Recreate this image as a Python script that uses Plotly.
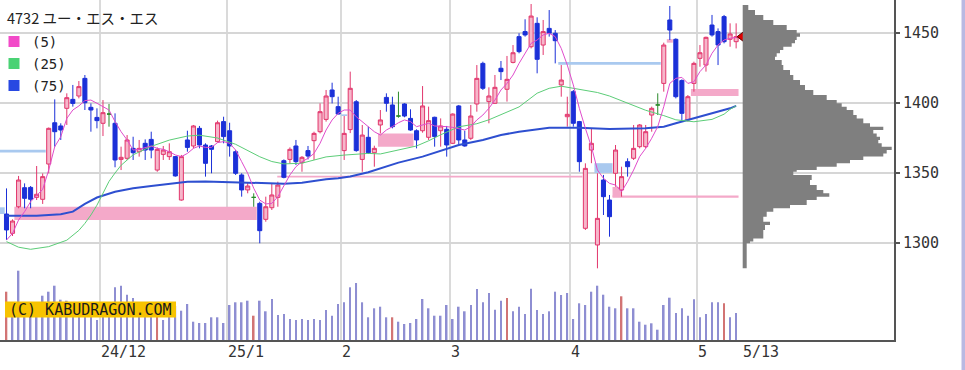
import plotly.graph_objects as go

# ---------------- data ----------------
open_ = [1320.7, 1306.9, 1325.9, 1339.5, 1339.7, 1332.6, 1331.2, 1356.4, 1385.9, 1383.6,
         1396.2, 1402.6, 1405.0, 1417.6, 1396.9, 1389.7, 1385.5, 1392.1, 1385.5, 1359.7,
         1360.5, 1367.6, 1365.2, 1371.2, 1374.0, 1352.1, 1363.3, 1361.7, 1361.7, 1330.7,
         1373.6, 1369.3, 1381.9, 1370.0, 1369.3, 1372.4, 1386.7, 1380.2, 1365.2, 1348.6,
         1337.9, 1332.6, 1328.3, 1316.9, 1325.2, 1332.6, 1358.8, 1359.7, 1369.3, 1357.4,
         1366.0, 1373.1, 1379.5, 1388.3, 1409.3, 1397.4, 1366.0, 1381.0, 1400.9, 1359.7,
         1375.5, 1364.5, 1384.3, 1404.0, 1398.6, 1390.7, 1399.3, 1389.0, 1380.2, 1380.2,
         1375.5, 1389.8, 1380.2, 1381.2, 1371.2, 1397.9, 1373.6, 1374.8, 1399.3, 1428.3,
         1401.0, 1399.8, 1424.8, 1409.8, 1429.0, 1447.4, 1451.0, 1440.2, 1456.9, 1441.4,
         1453.3, 1449.8, 1412.9, 1390.2, 1408.1, 1386.7, 1310.5, 1366.4, 1298.6, 1345.0,
         1330.7, 1349.8, 1337.9, 1358.1, 1360.5, 1368.8, 1368.8, 1391.4, 1398.6, 1414.0,
         1459.3, 1445.5, 1416.0, 1387.9, 1414.0, 1431.9, 1427.1, 1455.7, 1451.0, 1461.7,
         1445.5, 1443.8]
high = [1339.0, 1316.9, 1347.9, 1342.6, 1340.7, 1355.0, 1349.7, 1382.5, 1402.6, 1385.5,
        1406.9, 1412.9, 1415.7, 1420.0, 1399.7, 1396.2, 1402.1, 1399.3, 1392.6, 1368.8,
        1377.1, 1375.9, 1373.6, 1374.0, 1379.5, 1368.3, 1369.3, 1371.2, 1362.1, 1362.9,
        1380.2, 1384.3, 1383.6, 1371.2, 1370.0, 1387.4, 1390.2, 1385.9, 1366.4, 1349.8,
        1343.1, 1335.5, 1329.5, 1333.1, 1342.6, 1343.8, 1359.7, 1368.3, 1373.6, 1362.1,
        1369.3, 1379.5, 1399.7, 1409.3, 1414.5, 1404.5, 1390.7, 1422.4, 1402.1, 1384.3,
        1383.1, 1369.5, 1395.0, 1406.9, 1404.5, 1408.1, 1399.8, 1395.5, 1381.2, 1412.1,
        1397.4, 1390.2, 1389.0, 1383.6, 1392.6, 1398.6, 1380.2, 1398.6, 1427.1, 1429.5,
        1411.2, 1420.0, 1430.0, 1433.6, 1441.4, 1449.8, 1459.8, 1470.7, 1461.2, 1459.3,
        1466.4, 1452.1, 1427.1, 1404.5, 1409.3, 1387.2, 1356.9, 1381.9, 1349.8, 1348.6,
        1334.3, 1370.0, 1354.5, 1360.5, 1384.3, 1385.0, 1384.3, 1397.4, 1406.9, 1443.1,
        1469.3, 1446.2, 1416.9, 1405.7, 1429.5, 1441.4, 1447.4, 1462.9, 1453.3, 1462.9,
        1456.9, 1456.9]
low = [1302.1, 1305.0, 1324.8, 1324.8, 1324.8, 1330.7, 1327.9, 1349.8, 1368.8, 1373.6,
       1384.3, 1397.4, 1403.3, 1395.0, 1379.5, 1381.9, 1376.4, 1383.1, 1354.1, 1352.1,
       1359.3, 1359.3, 1361.7, 1359.3, 1360.5, 1350.9, 1359.3, 1359.3, 1347.4, 1330.2,
       1365.2, 1367.6, 1367.6, 1347.4, 1349.8, 1371.7, 1371.2, 1361.7, 1348.6, 1333.1,
       1335.5, 1325.9, 1299.8, 1315.2, 1323.6, 1325.9, 1346.2, 1356.9, 1355.7, 1350.9,
       1359.7, 1359.3, 1378.3, 1386.7, 1399.7, 1391.9, 1359.3, 1378.5, 1365.2, 1350.9,
       1363.6, 1354.5, 1378.3, 1393.8, 1381.9, 1389.5, 1389.8, 1380.2, 1367.6, 1378.8,
       1373.6, 1368.8, 1368.8, 1361.7, 1370.7, 1370.7, 1368.8, 1373.6, 1393.8, 1409.3,
       1385.5, 1399.3, 1416.4, 1401.0, 1428.3, 1435.5, 1447.4, 1439.0, 1421.2, 1434.3,
       1447.4, 1428.3, 1404.5, 1383.1, 1383.1, 1350.9, 1309.3, 1357.0, 1281.9, 1320.0,
       1304.5, 1340.2, 1333.1, 1347.4, 1359.3, 1367.6, 1367.6, 1379.5, 1391.4, 1408.1,
       1445.0, 1403.3, 1387.4, 1386.7, 1408.1, 1425.9, 1422.4, 1447.4, 1427.1, 1442.6,
       1440.2, 1439.0]
close = [1309.3, 1315.7, 1345.0, 1331.9, 1331.2, 1334.8, 1347.4, 1381.9, 1379.5, 1380.7,
         1403.8, 1399.7, 1411.7, 1400.2, 1395.0, 1387.4, 1393.1, 1392.1, 1359.3, 1361.2,
         1373.6, 1364.5, 1367.6, 1366.4, 1366.4, 1366.9, 1366.4, 1365.2, 1347.9, 1361.7,
         1368.3, 1383.6, 1370.0, 1356.9, 1366.9, 1385.9, 1376.0, 1369.3, 1349.8, 1337.9,
         1340.7, 1332.6, 1308.8, 1325.9, 1334.3, 1341.4, 1346.9, 1366.9, 1358.1, 1361.2,
         1362.1, 1378.3, 1393.8, 1405.0, 1404.5, 1392.1, 1378.3, 1410.5, 1366.0, 1377.1,
         1364.5, 1367.6, 1387.9, 1399.8, 1383.1, 1390.7, 1390.7, 1380.7, 1373.6, 1397.9,
         1387.4, 1376.0, 1383.6, 1370.0, 1392.1, 1373.6, 1369.3, 1390.7, 1417.6, 1410.5,
         1405.0, 1411.2, 1422.4, 1416.9, 1435.9, 1436.7, 1448.6, 1462.1, 1431.2, 1451.0,
         1449.8, 1444.5, 1416.4, 1391.9, 1385.5, 1358.1, 1353.3, 1371.2, 1317.6, 1333.1,
         1318.8, 1366.4, 1347.4, 1354.5, 1367.6, 1384.3, 1379.5, 1396.2, 1398.6, 1441.4,
         1452.1, 1404.5, 1392.6, 1404.5, 1428.3, 1435.9, 1446.9, 1448.6, 1441.4, 1443.8,
         1449.3, 1447.4]
doji_days = [17, 41, 65, 108]

ma5 = [1302.1, 1306.9, 1316.4, 1322.4, 1329.5, 1334.3, 1338.3, 1352.1, 1368.8, 1375.9,
       1389.0, 1395.0, 1397.9, 1401.7, 1402.1, 1399.8, 1397.4, 1395.0, 1386.7, 1379.5,
       1373.6, 1366.4, 1366.9, 1368.3, 1369.3, 1367.6, 1366.9, 1365.2, 1362.9, 1361.7,
       1364.0, 1367.6, 1369.3, 1368.3, 1368.3, 1371.7, 1372.4, 1371.2, 1366.4, 1358.1,
       1349.8, 1339.1, 1330.7, 1327.9, 1328.3, 1333.1, 1341.4, 1348.6, 1354.5, 1358.1,
       1360.5, 1364.0, 1371.2, 1380.7, 1387.9, 1392.6, 1395.0, 1395.0, 1390.2, 1386.7,
       1383.1, 1379.5, 1377.1, 1380.7, 1383.1, 1385.9, 1387.9, 1386.7, 1383.1, 1384.3,
       1385.5, 1383.6, 1383.6, 1383.1, 1382.6, 1381.9, 1380.7, 1383.1, 1387.9, 1391.4,
       1396.2, 1402.1, 1409.3, 1414.0, 1420.0, 1428.3, 1435.5, 1442.6, 1445.0, 1448.6,
       1449.8, 1447.4, 1439.0, 1427.1, 1412.9, 1396.2, 1381.9, 1368.8, 1352.1, 1346.2,
       1342.6, 1341.4, 1336.7, 1343.8, 1352.1, 1361.7, 1367.6, 1374.8, 1383.1, 1397.4,
       1414.0, 1417.6, 1418.3, 1414.0, 1415.2, 1422.4, 1427.1, 1435.5, 1441.4, 1445.0,
       1446.2, 1446.9]
ma25_days = [0, 2, 4, 7, 10, 12, 13, 14, 15, 16, 17, 18, 19, 21, 24, 27, 30, 32, 35, 38,
             40, 42, 44, 46, 49, 51, 53, 56, 60, 62, 65, 68, 70, 72, 75, 78, 80, 82, 85, 88,
             90, 92, 95, 98, 100, 103, 106, 109, 111, 114, 117, 119, 120, 121]
ma25 = [1301, 1297, 1295.5, 1297.4, 1302, 1309, 1314, 1320, 1327, 1335, 1344, 1350, 1355.5,
        1363, 1369, 1373.5, 1376.4, 1377, 1375, 1370.5, 1366, 1361.6, 1358.2, 1356.5, 1357,
        1359.5, 1361.5, 1362.8, 1364, 1363.6, 1366.2, 1369.3, 1373, 1377.3, 1383, 1385.2,
        1388, 1391.5, 1397.2, 1407, 1410.5, 1412, 1410, 1407.5, 1405, 1399.8, 1394.8, 1391,
        1388, 1386.6, 1388.3, 1392, 1395.5, 1398]
ma75_days = [0, 5, 9, 11, 13, 15, 18, 21, 24, 27, 30, 33, 38, 42, 46, 49, 51, 53, 55, 57,
             60, 62, 65, 69, 72, 75, 79, 82, 85, 88, 90, 95, 100, 106, 109, 111, 114, 117, 120, 121]
ma75 = [1319.5, 1319.5, 1320.5, 1322.4, 1328, 1332.5, 1336.6, 1339.1, 1340.7, 1342.1,
        1343.8, 1344, 1343.4, 1342.8, 1342.3, 1343, 1344.5, 1345.5, 1346.2, 1347.5,
        1350.5, 1353.3, 1357.4, 1361.7, 1365.9, 1370, 1373.6, 1377.1, 1379.5, 1381.5,
        1382.4, 1382.4, 1381.4, 1381.9, 1383.1, 1385.5, 1389, 1392.6, 1396.2, 1397.9]

volume = [48.3, 30, 69.3, 31, 29, 33, 44.3, 48.3, 54.3, 40.3,
          39.3, 34, 32, 35, 24, 20, 31, 36, 52.7, 54.3,
          45.3, 42, 36, 33, 28, 30, 20, 30, 34, 29.3,
          36, 18.3, 17, 17, 22.7, 22.7, 17, 35, 37.7, 37.7,
          39.3, 24.3, 39.3, 28.7, 41, 25, 26, 21, 20, 21,
          20, 21, 20, 30, 24.3, 36, 37.7, 52.7, 57, 37.7,
          22.7, 31.7, 33.3, 22.7, 22.7, 18.3, 16, 17, 21, 41,
          31.7, 24.3, 24.3, 35, 21, 33.3, 28.7, 35, 51, 37.7,
          47, 30.3, 39.3, 42, 28.7, 33.3, 26, 51.3, 30, 26,
          28.7, 48.3, 45, 47, 21, 36.7, 35, 48.3, 54.3, 45.3,
          33.3, 31.7, 43.7, 31.7, 31.7, 18.3, 15.3, 16.7, 10.3, 35,
          42.3, 27, 31.7, 24.3, 40.7, 22.7, 26, 37.7, 37.7, 36.7,
          22.7, 27]
red_volume_days = [0, 25, 41, 64, 83, 102, 119]

profile_price = [1470.0, 1466.4, 1462.9, 1459.3, 1455.7, 1452.1, 1449.8, 1447.4, 1445.0, 1442.6,
                 1440.2, 1437.9, 1435.5, 1433.1, 1430.7, 1427.2, 1423.6, 1420.0, 1416.4, 1412.9,
                 1409.3, 1405.7, 1402.1, 1399.8, 1397.4, 1395.0, 1391.4, 1389.0, 1385.5, 1383.1,
                 1380.7, 1378.3, 1375.9, 1373.6, 1371.2, 1368.8, 1366.4, 1364.0, 1361.7, 1359.3,
                 1356.9, 1354.5, 1352.1, 1350.9, 1348.6, 1345.0, 1341.4, 1337.9, 1335.5, 1333.1,
                 1330.7, 1327.1, 1324.8, 1322.4, 1318.8, 1315.2, 1312.9, 1309.3, 1304.5, 1303.3,
                 1301.0, 1299.8, 1282.0]
profile_volume = [5.6, 12.3, 20.6, 30.6, 44, 54, 57.3, 54, 52.3, 49,
                  40.6, 37.3, 34, 32.3, 39, 40.6, 47.3, 50.6, 57.3, 62.3,
                  70.6, 84, 94, 99, 104, 110.6, 114, 120.6, 127.3, 140.6,
                  130.6, 134, 137.3, 135.6, 139, 149, 144, 140.6, 120.6, 107.3,
                  94, 74, 54, 50.6, 69, 67.3, 74, 80.6, 86.6, 74,
                  64, 47.3, 30.6, 24, 20.6, 27.3, 22.3, 20.6, 20.6, 10.6,
                  7.3, 4, 4]

# price zones (windows): from day, to day, low price, high price
pink_zones = [(1.3, 41.5, 1316.4, 1325.9), (44.9, 95.5, 1346.7, 1348.1),
              (61.6, 67.5, 1368.8, 1378.3), (100.5, 102.0, 1333.0, 1340.0),
              (100.5, 121.4, 1332.3, 1334.0), (113.5, 121.4, 1405.0, 1410.0),
              (109.5, 110.5, 1443.1, 1445.6)]
blue_zones = [(-1.2, 6.5, 1364.6, 1366.6), (-1.2, -0.3, 1320.7, 1325.5),
              (91.5, 108.5, 1427.4, 1429.3), (97.5, 100.5, 1350.0, 1357.0),
              (55.5, 56.5, 1390.7, 1391.9)]

month_breaks = [15.5, 36.5, 55.5, 73.5, 93.5, 114.5]
month_labels = ["24/12", "25/1", "2", "3", "4", "5"]
last_date_label = "5/13"
title_text = "4732 ユー・エス・エス"
ma_labels = ["(5)", "(25)", "(75)"]
price_ticks = [1300, 1350, 1400, 1450]

# ---------------- geometry / style ----------------
FIG_W, FIG_H = 965, 370
PLOT_W, PLOT_H = 894, 340
STEP_PX, FIRST_PX = 6.03, 6.5
PX_PER_YEN, REF_PRICE, REF_PX = 1.4, 1450, 33
PROFILE_BASE_PX = 742.7

x_range = [-FIRST_PX / STEP_PX, (PLOT_W - FIRST_PX) / STEP_PX]
y_range = [REF_PRICE - (PLOT_H - REF_PX) / PX_PER_YEN, REF_PRICE + REF_PX / PX_PER_YEN]


def px_x(px):
    return px / PLOT_W


def px_y(py):
    return 1 - py / PLOT_H


UP_LINE, UP_FILL, DOWN, DOJI = "#e2366c", "#f6b6ca", "#1b30d8", "#2a8a2a"
MA_COLORS = ["#e04ccc", "#5ccd78", "#2e4fd0"]
SQ_COLORS = ["#f24ac8", "#4ad274", "#2848e2"]
PINK_ZONE, BLUE_ZONE = "#f4a9c9", "#a9c9ef"
MONO = "DejaVu Sans Mono"

n = len(close)
days = list(range(n))
is_doji = [d in doji_days for d in days]


def keep(arr, flags):
    return [v if f else None for v, f in zip(arr, flags)]


not_doji = [not f for f in is_doji]

fig = go.Figure()

# volume bars
fig.add_trace(go.Bar(
    x=days, y=volume, yaxis="y2", width=0.27,
    marker=dict(color=["#d27474" if d in red_volume_days else "#8e8ed2" for d in days],
                line=dict(width=0)),
    hoverinfo="skip", showlegend=False))

# candles
fig.add_trace(go.Candlestick(
    x=days, open=keep(open_, not_doji), high=keep(high, not_doji),
    low=keep(low, not_doji), close=keep(close, not_doji),
    increasing=dict(line=dict(color=UP_LINE, width=1), fillcolor=UP_FILL),
    decreasing=dict(line=dict(color=DOWN, width=1), fillcolor=DOWN),
    whiskerwidth=0, showlegend=False))
fig.add_trace(go.Candlestick(
    x=days, open=keep(open_, is_doji), high=keep(high, is_doji),
    low=keep(low, is_doji), close=keep(close, is_doji),
    increasing=dict(line=dict(color=DOJI, width=1), fillcolor=DOJI),
    decreasing=dict(line=dict(color=DOJI, width=1), fillcolor=DOJI),
    whiskerwidth=0, showlegend=False))

# moving averages
fig.add_trace(go.Scatter(x=ma75_days, y=ma75, mode="lines",
                         line=dict(color=MA_COLORS[2], width=2), showlegend=False))
fig.add_trace(go.Scatter(x=ma25_days, y=ma25, mode="lines",
                         line=dict(color=MA_COLORS[1], width=1), showlegend=False))
fig.add_trace(go.Scatter(x=days, y=ma5, mode="lines",
                         line=dict(color=MA_COLORS[0], width=1), showlegend=False))

# last price marker
fig.add_trace(go.Scatter(x=[n], y=[close[-1]], mode="markers",
                         marker=dict(symbol="triangle-left", size=10, color="#e00000",
                                     line=dict(color="#5a0000", width=1)),
                         showlegend=False))

# price-by-volume profile
fig.add_trace(go.Scatter(x=profile_volume, y=profile_price, xaxis="x2", yaxis="y",
                         mode="lines", line=dict(width=0, shape="vh", color="#7f7f7f"),
                         fill="tozerox", fillcolor="#7f7f7f", showlegend=False,
                         hoverinfo="skip"))

shapes = []
for (d0, d1, p0, p1) in pink_zones:
    shapes.append(dict(type="rect", xref="x", yref="y", x0=d0, x1=d1, y0=p0, y1=p1,
                       fillcolor=PINK_ZONE, line=dict(width=0), layer="between"))
for (d0, d1, p0, p1) in blue_zones:
    shapes.append(dict(type="rect", xref="x", yref="y", x0=d0, x1=d1, y0=p0, y1=p1,
                       fillcolor=BLUE_ZONE, line=dict(width=0), layer="between"))
# white legend backdrop
shapes.append(dict(type="rect", xref="paper", yref="paper", x0=px_x(0), x1=px_x(63),
                   y0=px_y(96), y1=px_y(28), fillcolor="white", line=dict(width=0),
                   layer="between"))
# legend squares
for k, col in enumerate(SQ_COLORS):
    top = 36 + k * 22
    shapes.append(dict(type="rect", xref="paper", yref="paper", x0=px_x(8.5), x1=px_x(19.5),
                       y0=px_y(top + 11), y1=px_y(top), fillcolor=col, line=dict(width=0),
                       layer="above"))
# watermark box
shapes.append(dict(type="rect", xref="paper", yref="paper", x0=px_x(5), x1=px_x(176),
                   y0=px_y(317.5), y1=px_y(301.5), fillcolor="#f7c300", line=dict(width=0),
                   layer="above"))
# right lavender strip
shapes.append(dict(type="rect", xref="paper", yref="paper", x0=px_x(961.5), x1=px_x(966),
                   y0=px_y(FIG_H + 2), y1=1.0, fillcolor="#b9b9e2", line=dict(width=0),
                   layer="above"))

annotations = [
    dict(text=title_text, xref="paper", yref="paper", x=px_x(5), y=px_y(17),
         xanchor="left", yanchor="middle", showarrow=False,
         font=dict(family="Noto Sans CJK JP", size=14.5, color="#222")),
    dict(text="(C) KABUDRAGON.COM", xref="paper", yref="paper", x=px_x(6.5), y=px_y(309.5),
         xanchor="left", yanchor="middle", showarrow=False,
         font=dict(family=MONO, size=15, color="#1a1a1a")),
]
for k, lab in enumerate(ma_labels):
    annotations.append(dict(text=lab, xref="paper", yref="paper", x=px_x(29.5),
                            y=px_y(41.5 + k * 22), xanchor="left", yanchor="middle",
                            showarrow=False, font=dict(family=MONO, size=14, color="#222")))
for pos, lab in zip(month_breaks + [n], month_labels + [last_date_label]):
    annotations.append(dict(text=lab, xref="x", yref="paper", x=pos, y=0,
                            xanchor="left", yanchor="top", yshift=-1, xshift=-1,
                            showarrow=False, font=dict(family=MONO, size=15, color="#333")))

fig.update_layout(
    width=FIG_W, height=FIG_H,
    margin=dict(l=0, r=FIG_W - PLOT_W, t=0, b=FIG_H - PLOT_H, pad=0),
    paper_bgcolor="white", plot_bgcolor="white",
    boxgap=0.33, boxgroupgap=0,
    showlegend=False,
    shapes=shapes, annotations=annotations,
    xaxis=dict(range=x_range, tickvals=month_breaks, showticklabels=False, ticks="",
               showgrid=True, gridcolor="#dadada", gridwidth=1.5, zeroline=False,
               showline=True, linecolor="#555", linewidth=2,
               rangeslider=dict(visible=False), fixedrange=True),
    yaxis=dict(range=y_range, side="right", tickvals=price_ticks, ticks="outside",
               ticklen=4, tickcolor="#555", tickwidth=1.5,
               tickfont=dict(family=MONO, size=15, color="#333"),
               showgrid=True, gridcolor="#d6d6d6", gridwidth=1.5, zeroline=False,
               showline=True, linecolor="#555", linewidth=2, fixedrange=True),
    yaxis2=dict(overlaying="y", range=[0, PLOT_H], visible=False, fixedrange=True),
    xaxis2=dict(overlaying="x", anchor="y", range=[-PROFILE_BASE_PX, PLOT_W - PROFILE_BASE_PX],
                visible=False, fixedrange=True),
)

fig.write_html("out.html", config={"displayModeBar": False},
               post_script="document.body.style.margin='0';document.body.style.padding='0';")
